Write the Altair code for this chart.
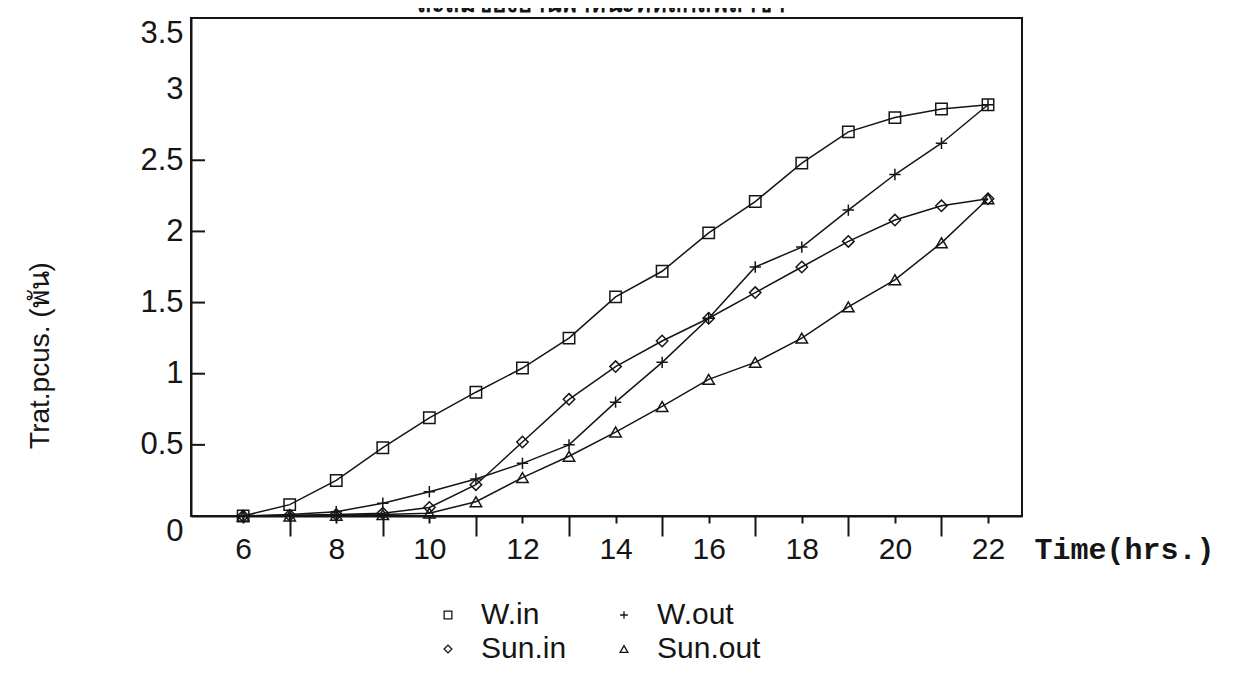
import altair as alt
import pandas as pd

# ---- data ----
hours = list(range(6, 23))
series_names = ["W.in", "W.out", "Sun.in", "Sun.out"]
w_in = [0, 0.08, 0.25, 0.48, 0.69, 0.87, 1.04, 1.25, 1.54, 1.72, 1.99, 2.21, 2.48, 2.70, 2.80, 2.86, 2.89]
w_out = [0, 0.01, 0.03, 0.09, 0.17, 0.26, 0.37, 0.50, 0.80, 1.08, 1.39, 1.75, 1.89, 2.15, 2.40, 2.62, 2.89]
sun_in = [0, 0.005, 0.01, 0.02, 0.06, 0.22, 0.52, 0.82, 1.05, 1.23, 1.39, 1.57, 1.75, 1.93, 2.08, 2.18, 2.23]
sun_out = [0, 0, 0.005, 0.01, 0.02, 0.10, 0.27, 0.42, 0.59, 0.77, 0.96, 1.08, 1.25, 1.47, 1.66, 1.92, 2.23]

title_text = "สะสมของยานพาหนะที่หลักสี่พลาซ่า"
y_title = "Trat.pcus. (พัน)"
x_title = "Time(hrs.)"
y_tick_values = [0, 0.5, 1, 1.5, 2, 2.5, 3, 3.5]
y_inner_ticks = [0.5, 1, 1.5, 2, 2.5]
x_tick_values = hours

rows = []
for name, vals in zip(series_names, [w_in, w_out, sun_in, sun_out]):
    for h, v in zip(hours, vals):
        rows.append({"hour": h, "value": v, "series": name})
df = pd.DataFrame(rows)
ticks_df = pd.DataFrame({"value": y_inner_ticks})
title_df = pd.DataFrame({"label": [title_text]})

W, H = 831, 498
INK = "#151515"
xscale = alt.Scale(domain=[4.88, 22.73], nice=False, zero=False)
yscale = alt.Scale(domain=[0, 3.5], nice=False)

x_axis = alt.Axis(
    values=x_tick_values,
    title=x_title,
    labelExpr="datum.value % 2 === 0 ? datum.label : ''",
    tickSize={"condition": {"test": "datum.value % 2 === 1", "value": 20}, "value": 7},
    tickWidth=2, tickColor=INK,
    domainColor=INK, domainWidth=2,
    labelFont="Liberation Sans", labelFontSize=30, labelColor=INK,
    labelPadding=11, labelOverlap=False, grid=False,
    titleFont="Liberation Mono", titleFontWeight="bold", titleFontSize=30,
    titleAngle=0, titleAlign="left", titleBaseline="middle",
    titleX=843, titleY=33, titleColor=INK,
)
y_axis = alt.Axis(
    values=y_tick_values,
    title=y_title,
    format="~g",
    ticks=False,
    domainColor=INK, domainWidth=2,
    labelFont="Liberation Sans", labelFontSize=31, labelColor=INK,
    labelBaseline={"condition": {"test": "datum.value === 0 || datum.value === 3.5", "value": "top"},
                   "value": "middle"},
    labelPadding=8, labelOverlap=False, grid=False,
    titleFont="Liberation Sans", titleFontWeight="normal", titleFontSize=28,
    titleAngle=270, titleAlign="center", titleBaseline="middle",
    titleX=-151, titleY=337, titleColor=INK,
)

X = alt.X("hour:Q", scale=xscale, axis=x_axis)
Y = alt.Y("value:Q", scale=yscale, axis=y_axis)

plus_path = "M-1,0L1,0M0,-1L0,1"

lines = alt.Chart(df).mark_line(color=INK, strokeWidth=1.5).encode(
    x=X, y=Y, detail="series:N"
)
points = alt.Chart(df).mark_point(filled=False, color=INK, strokeWidth=1.5, size=130, opacity=1).encode(
    x=X, y=Y,
    shape=alt.Shape(
        "series:N",
        scale=alt.Scale(domain=series_names, range=["square", plus_path, "diamond", "triangle-up"]),
        legend=alt.Legend(
            orient="none", legendX=242, legendY=582, columns=2, direction="horizontal",
            title=None,
            labelFont="Liberation Sans", labelFontSize=30, labelColor=INK,
            symbolSize=60, symbolStrokeWidth=1.3, symbolStrokeColor=INK,
            symbolFillColor="transparent",
            labelOffset=18, columnPadding=42, rowPadding=4,
        ),
    ),
)
inner_ticks = alt.Chart(ticks_df).mark_rule(color=INK, strokeWidth=2).encode(
    y=Y, x=alt.value(0), x2=alt.value(14)
)
title_mark = alt.Chart(title_df).mark_text(
    font="Liberation Sans", fontSize=24, fontWeight="bold", color=INK,
    align="center", baseline="bottom",
).encode(text="label:N", x=alt.value(W / 2 - 6), y=alt.value(-1))

chart = alt.layer(lines, points, inner_ticks, title_mark).properties(
    width=W, height=H,
    autosize=alt.AutoSizeParams(type="none"),
    padding={"left": 183, "top": 10, "right": 220, "bottom": 149},
).configure_view(stroke=INK, strokeWidth=2)

chart.save("out.html", embed_options={"renderer": "svg", "actions": False})
